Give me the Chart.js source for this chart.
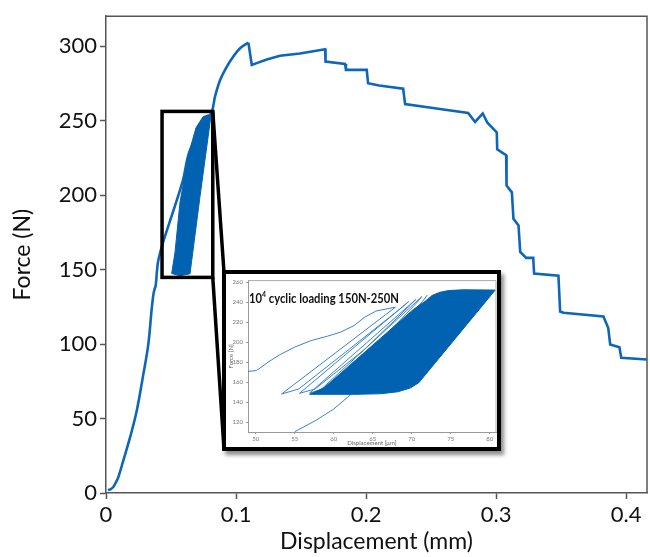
<!DOCTYPE html>
<html>
<head>
<meta charset="utf-8">
<script src="https://cdn.jsdelivr.net/npm/chart.js@4.4.1/dist/chart.umd.min.js"></script>
<style>
  html, body { margin: 0; padding: 0; background: #fff; }
  #wrap { position: relative; width: 650px; height: 557px; }
  #main { position: absolute; left: 0; top: 0; }
  #insetBox {
    position: absolute; left: 222px; top: 270px; width: 279px; height: 181px;
    box-sizing: border-box; border: 4px solid #000; background: #fff;
    box-shadow: 3px 4px 4px rgba(0, 0, 0, 0.45);
  }
  #inset { display: block; }
</style>
</head>
<body>
<div id="wrap">
  <canvas id="main" width="650" height="557"></canvas>
  <div id="insetBox"><canvas id="inset" width="271" height="173"></canvas></div>
</div>
<script>
// main test, loading part up to the peak: displacement (mm) vs force (N)
const riseDispMm = [0.0015, 0.0035, 0.0056, 0.0075, 0.0095, 0.0133, 0.0185, 0.0236, 0.0287, 0.0325, 0.0352,
  0.0364, 0.0374, 0.0382, 0.0392, 0.0402, 0.0438, 0.0520, 0.0592, 0.0646, 0.0813, 0.0838, 0.0877, 0.0928,
  0.0979, 0.1031, 0.1095];
const riseForceN = [2, 2.5, 4, 7, 10.7, 21.8, 37.3, 55, 79.6, 99.6, 124,
  133, 137, 139, 149, 156, 168, 190, 210, 230, 256, 266, 277, 286,
  293, 298.5, 302.3];

// after the peak: stepwise failure
const fallDispMm = [0.1095, 0.1121, 0.1159, 0.1236, 0.1338, 0.1492, 0.1685, 0.1688, 0.1838, 0.1845, 0.2005,
  0.2015, 0.2100, 0.2285, 0.2300, 0.2500, 0.2785, 0.2838, 0.2897, 0.2933, 0.3005, 0.3008, 0.3077, 0.3080,
  0.3121, 0.3133, 0.3172, 0.3185, 0.3231, 0.3285, 0.3292, 0.3479, 0.3492, 0.3518, 0.3825, 0.3862, 0.3877,
  0.3948, 0.3962, 0.4162];
const fallForceN = [302.3, 287.3, 288.5, 291, 293.4, 295, 297.8, 289.6, 288, 284, 284,
  275, 273.5, 271.3, 261, 258.5, 255, 249, 254.7, 248.5, 242, 230.7, 226.7, 206.3,
  201.8, 184, 179.6, 161.8, 157.8, 157.8, 147.3, 145.8, 121.8, 121, 118.5, 110.7, 99.6,
  97.8, 90.7, 89.6];

// outline of the dense cyclic band in the main plot
const bandDispMm = [0.0505, 0.0531, 0.0569, 0.0638, 0.0692, 0.0746, 0.0785, 0.0808, 0.0805, 0.0723, 0.0646, 0.0569, 0.0505];
const bandForceN = [147.3, 161.8, 195.1, 228.5, 245.1, 252.5, 253.8, 253.1, 251.8, 199.1, 147.1, 145.8, 147.3];

// zoom window drawn around the cycles
const zoomDisp = [0.0431, 0.0821];
const zoomForce = [144.7, 256.1];

// inset: displacement (um) vs force (N)
const firstLoadUm = [49.0, 50.1, 51.6, 53.0, 55.0, 57.1, 59.2, 60.9, 62.6, 63.9, 65.4, 67.9];
const firstLoadN = [170.6, 171.5, 180, 187, 195, 201.5, 205.9, 210, 216.5, 224.6, 231, 234.9];
const loopsUm = [67.9, 53.3, 55.5, 62.0, 68.8, 69.6, 55.6, 57.6, 64.0, 69.8, 70.5, 56.9, 58.6, 65.0, 70.6, 71.3, 57.8, 59.4, 66.0, 71.4, 72.0];
const loopsN = [234.9, 148, 153, 193, 235, 240.5, 148.7, 153, 193, 237, 242.5, 149, 153, 193, 239, 245.5, 148.5, 153, 193, 241, 247];
const tailUm = [55.0, 57.7, 60.0, 62.4, 63.5];
const tailN = [110.3, 121.6, 133, 149, 150];
const bandInUm = [56.9, 62.85, 66.0, 68.2, 69.8, 70.9, 80.7, 76.5, 74.7, 73.6, 72.6, 71.8, 70.2, 58.8, 56.9];
const bandInN = [147.7, 147.7, 148.3, 150.2, 154.0, 159.3, 252, 252.3, 251.5, 249.8, 246.6, 241.3, 232.6, 154.5, 147.7];

const pts = (xs, ys) => xs.map((v, i) => ({ x: v, y: ys[i] }));

const blue = '#0d66b8';
const bandBlue = '#0062b0';
const axisGrey = '#555';

const frame = {
  id: 'frame',
  afterDraw(chart) {
    const { ctx, chartArea: a } = chart;
    ctx.save();
    ctx.strokeStyle = chart.options.frameColor || axisGrey;
    ctx.lineWidth = chart.options.frameWidth || 1.5;
    ctx.beginPath();
    ctx.moveTo(a.left, a.top);
    ctx.lineTo(a.right, a.top);
    ctx.lineTo(a.right, a.bottom);
    ctx.stroke();
    ctx.restore();
  }
};

const zoomMarks = {
  id: 'zoomMarks',
  afterDatasetsDraw(chart) {
    const { ctx, scales: { x, y } } = chart;
    const l = x.getPixelForValue(zoomDisp[0]), r = x.getPixelForValue(zoomDisp[1]);
    const t = y.getPixelForValue(zoomForce[1]), b = y.getPixelForValue(zoomForce[0]);
    const box = document.getElementById('insetBox');
    const ix = box.offsetLeft + 2, iy = box.offsetTop + 2, ib = box.offsetTop + box.offsetHeight - 2;
    ctx.save();
    ctx.strokeStyle = '#000';
    ctx.lineWidth = 3.5;
    ctx.strokeRect(l, t, r - l, b - t);
    ctx.beginPath();
    ctx.moveTo(r, t); ctx.lineTo(ix, iy);
    ctx.moveTo(r, b); ctx.lineTo(ix, ib);
    ctx.stroke();
    ctx.restore();
  }
};

new Chart(document.getElementById('main'), {
  type: 'line',
  data: {
    datasets: [{
      data: pts(bandDispMm, bandForceN),
      borderColor: bandBlue,
      backgroundColor: bandBlue,
      borderWidth: 1,
      fill: 'shape',
      pointRadius: 0,
      order: 0
    }, {
      data: pts(riseDispMm, riseForceN),
      borderColor: blue,
      borderWidth: 2.6,
      fill: false,
      pointRadius: 0,
      tension: 0.35,
      order: 1
    }, {
      data: pts(fallDispMm, fallForceN),
      borderColor: blue,
      borderWidth: 2.6,
      fill: false,
      pointRadius: 0,
      tension: 0,
      order: 2
    }]
  },
  options: {
    responsive: false,
    animation: false,
    events: [],
    frameColor: axisGrey,
    layout: { padding: { top: 13, right: 3, left: 0, bottom: 0 } },
    plugins: { legend: { display: false }, tooltip: { enabled: false } },
    scales: {
      x: {
        type: 'linear', min: 0, max: 0.416,
        afterFit: s => { s.height = 64; },
        ticks: { stepSize: 0.1, includeBounds: false, padding: 3, color: '#111',
                 font: { family: 'Lato', size: 22 } },
        grid: { display: true, drawOnChartArea: false, drawTicks: true, tickLength: 6,
                tickColor: axisGrey, tickWidth: 1.5 },
        border: { display: true, color: axisGrey, width: 1.5 },
        title: { display: true, text: 'Displacement (mm)', color: '#111',
                 font: { family: 'Lato', size: 23 }, padding: { top: 0, bottom: 2 } }
      },
      y: {
        type: 'linear', min: 0, max: 320,
        afterFit: s => { s.width = 106; },
        ticks: { stepSize: 50, includeBounds: false, padding: 3, color: '#111',
                 font: { family: 'Lato', size: 22 } },
        grid: { display: true, drawOnChartArea: false, drawTicks: true, tickLength: 6,
                tickColor: axisGrey, tickWidth: 1.5 },
        border: { display: true, color: axisGrey, width: 1.5 },
        title: { display: true, text: 'Force (N)', color: '#111',
                 font: { family: 'Lato', size: 23 }, padding: { top: 9, bottom: 0 } }
      }
    }
  },
  plugins: [frame, zoomMarks]
});

const insetTitle = {
  id: 'insetTitle',
  afterDraw(chart) {
    const { ctx, chartArea: a } = chart;
    const big = 'bold 13px Lato', small = 'bold 8px Lato';
    const rest = ' cyclic loading 150N-250N';
    ctx.save();
    ctx.font = big;
    const w1 = ctx.measureText('10').width, w3 = ctx.measureText(rest).width;
    ctx.font = small;
    const w2 = ctx.measureText('4').width;
    const sx = 150 / (w1 + w2 + w3);
    ctx.translate(a.left + 1, a.top + 22);
    ctx.scale(sx, 1);
    ctx.fillStyle = '#111';
    ctx.textBaseline = 'alphabetic';
    ctx.font = big;
    ctx.fillText('10', 0, 0);
    ctx.font = small;
    ctx.fillText('4', w1, -5.5);
    ctx.font = big;
    ctx.fillText(rest, w1 + w2, 0);
    ctx.restore();
  }
};

const insetLine = (xs, ys, order) => ({
  data: pts(xs, ys),
  borderColor: '#3a83c8',
  borderWidth: 1,
  fill: false,
  pointRadius: 0,
  tension: 0,
  order: order
});

new Chart(document.getElementById('inset'), {
  type: 'line',
  data: {
    datasets: [{
      data: pts(bandInUm, bandInN),
      borderColor: bandBlue,
      backgroundColor: bandBlue,
      borderWidth: 1,
      fill: 'shape',
      pointRadius: 0,
      order: 0
    },
    insetLine(firstLoadUm, firstLoadN, 1),
    insetLine(loopsUm, loopsN, 2),
    insetLine(tailUm, tailN, 3)]
  },
  options: {
    responsive: false,
    animation: false,
    events: [],
    frameColor: '#aaa',
    frameWidth: 1,
    layout: { padding: { top: 1, right: 1, left: 0, bottom: 0 } },
    plugins: { legend: { display: false }, tooltip: { enabled: false } },
    scales: {
      x: {
        type: 'linear', min: 49, max: 80.8,
        afterFit: s => { s.height = 15; },
        ticks: { stepSize: 5, includeBounds: false, padding: 1, color: '#777',
                 font: { family: 'Lato', size: 6 } },
        grid: { display: true, drawOnChartArea: false, tickLength: 2, tickColor: '#999' },
        border: { display: true, color: '#999', width: 1 },
        title: { display: true, text: 'Displacement [μm]', color: '#666',
                 font: { family: 'Lato', size: 6 }, padding: { top: 0, bottom: 0 } }
      },
      y: {
        type: 'linear', min: 110, max: 261.5,
        afterFit: s => { s.width = 22; },
        ticks: { stepSize: 20, includeBounds: false, padding: 3, color: '#777',
                 font: { family: 'Lato', size: 6 } },
        grid: { display: true, drawOnChartArea: false, tickLength: 2, tickColor: '#999' },
        border: { display: true, color: '#999', width: 1 },
        title: { display: true, text: 'Force [N]', color: '#666',
                 font: { family: 'Lato', size: 6 }, padding: { top: 1, bottom: 0 } }
      }
    }
  },
  plugins: [frame, insetTitle]
});
</script>
</body>
</html>
